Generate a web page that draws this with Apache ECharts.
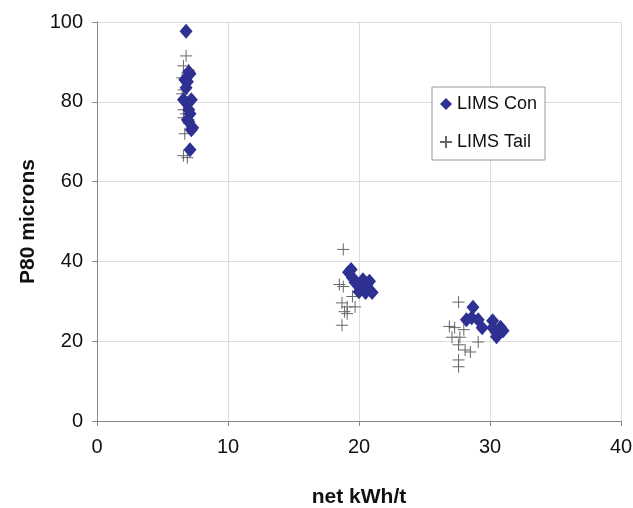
<!DOCTYPE html>
<html>
<head>
<meta charset="utf-8">
<script src="https://cdn.jsdelivr.net/npm/echarts@6/dist/echarts.min.js"></script>
<style>
    html, body { margin: 0; padding: 0; background: #fff; }
    #chart { width: 633px; height: 508px; }
</style>
</head>
<body>
<div id="chart"></div>
<script>
// LIMS Con (diamonds)
var conX = [6.8, 7.0, 7.1, 6.7, 6.9, 6.8, 6.6, 7.2, 6.9, 7.0, 7.1, 6.9, 7.0, 7.3, 7.2, 7.1,
            19.2, 19.4, 19.5, 19.7, 20.3, 20.6, 20.2, 21.0, 20.5, 20.0, 20.8,
            28.7, 28.2, 28.6, 29.1, 29.4, 30.2, 30.2, 30.5, 31.0, 30.5, 30.8];
var conY = [97.7, 87.5, 87.0, 85.5, 85.0, 83.5, 80.5, 80.5, 79.5, 78.0, 77.0, 75.5, 75.0, 73.5, 73.0, 68.0,
            37.3, 38.0, 35.9, 34.7, 35.4, 34.2, 33.4, 32.2, 32.2, 32.4, 35.0,
            28.5, 25.4, 25.9, 25.4, 23.4, 25.1, 23.4, 22.1, 22.6, 21.1, 23.5];
// LIMS Tail (crosses)
var tailX = [6.8, 6.6, 7.0, 6.5, 6.6, 6.5, 7.0, 6.6, 6.8, 6.6, 7.0, 6.7, 6.6, 6.9,
             18.8, 18.5, 18.8, 19.5, 18.7, 19.1, 19.7, 18.9, 19.1, 18.7,
             27.6, 26.9, 27.3, 28.0, 27.1, 27.7, 27.6, 28.1, 28.5, 29.1, 27.6, 27.6];
var tailY = [91.5, 89.0, 88.0, 86.0, 83.0, 82.0, 80.0, 78.0, 77.0, 76.0, 75.5, 72.0, 66.5, 66.0,
             43.0, 34.2, 33.7, 31.2, 29.6, 28.6, 28.6, 27.4, 26.9, 24.0,
             29.8, 23.7, 23.4, 22.9, 21.0, 21.0, 19.1, 17.8, 17.3, 19.8, 15.3, 13.6];
var xTicks = [0, 10, 20, 30, 40];
var yTicks = [0, 20, 40, 60, 80, 100];

function pairs(xs, ys) {
    var out = [];
    for (var i = 0; i < xs.length; i++) {
        out.push([xs[i], ys[i]]);
    }
    return out;
}

var labelFont = '"Liberation Sans Narrow", "Liberation Sans", Arial, sans-serif';
var nameFont = '"Liberation Sans", Arial, sans-serif';

var chart = echarts.init(document.getElementById('chart'));
var option = {
    animation: false,
    grid: {left: 97, right: 12, top: 22, bottom: 87, outerBoundsMode: 'none', containLabel: false},
    legend: {
        orient: 'vertical',
        left: 432,
        top: 87,
        padding: [8, 8, 9, 7],
        itemGap: 20,
        itemWidth: 12,
        itemHeight: 12,
        borderColor: '#999',
        borderWidth: 1,
        backgroundColor: '#fff',
        textStyle: {fontFamily: labelFont, fontSize: 18, color: '#111'},
        data: ['LIMS Con', 'LIMS Tail']
    },
    xAxis: {
        type: 'value',
        min: xTicks[0],
        max: xTicks[xTicks.length - 1],
        interval: 10,
        name: 'net kWh/t',
        nameLocation: 'middle',
        nameGap: 66,
        nameTextStyle: {fontFamily: nameFont, fontWeight: 'bold', fontSize: 21, color: '#111'},
        axisLine: {lineStyle: {color: '#888'}},
        axisTick: {show: true, inside: false, length: 5, lineStyle: {color: '#888'}},
        axisLabel: {fontFamily: labelFont, fontSize: 20, color: '#111', margin: 16},
        splitLine: {show: true, lineStyle: {color: '#dcdcdc'}}
    },
    yAxis: {
        type: 'value',
        min: yTicks[0],
        max: yTicks[yTicks.length - 1],
        interval: 20,
        name: 'P80 microns',
        nameLocation: 'middle',
        nameGap: 54,
        nameTextStyle: {fontFamily: nameFont, fontWeight: 'bold', fontSize: 21, color: '#111'},
        axisLine: {show: true, lineStyle: {color: '#888'}},
        axisTick: {show: true, inside: false, length: 5, lineStyle: {color: '#888'}},
        axisLabel: {fontFamily: labelFont, fontSize: 20, color: '#111', margin: 14},
        splitLine: {show: true, lineStyle: {color: '#dcdcdc'}}
    },
    series: [{
        name: 'LIMS Con',
        type: 'scatter',
        symbol: 'diamond',
        symbolSize: [13, 15],
        itemStyle: {color: '#2E3192', opacity: 1},
        data: pairs(conX, conY),
        z: 3
    }, {
        name: 'LIMS Tail',
        type: 'scatter',
        symbol: 'path://M5,0 L5,10 M0,5 L10,5',
        symbolSize: 12,
        itemStyle: {color: 'rgba(0,0,0,0)', borderColor: '#666', borderWidth: 1, opacity: 1},
        data: pairs(tailX, tailY),
        z: 2
    }]
};
chart.setOption(option);
</script>
</body>
</html>
